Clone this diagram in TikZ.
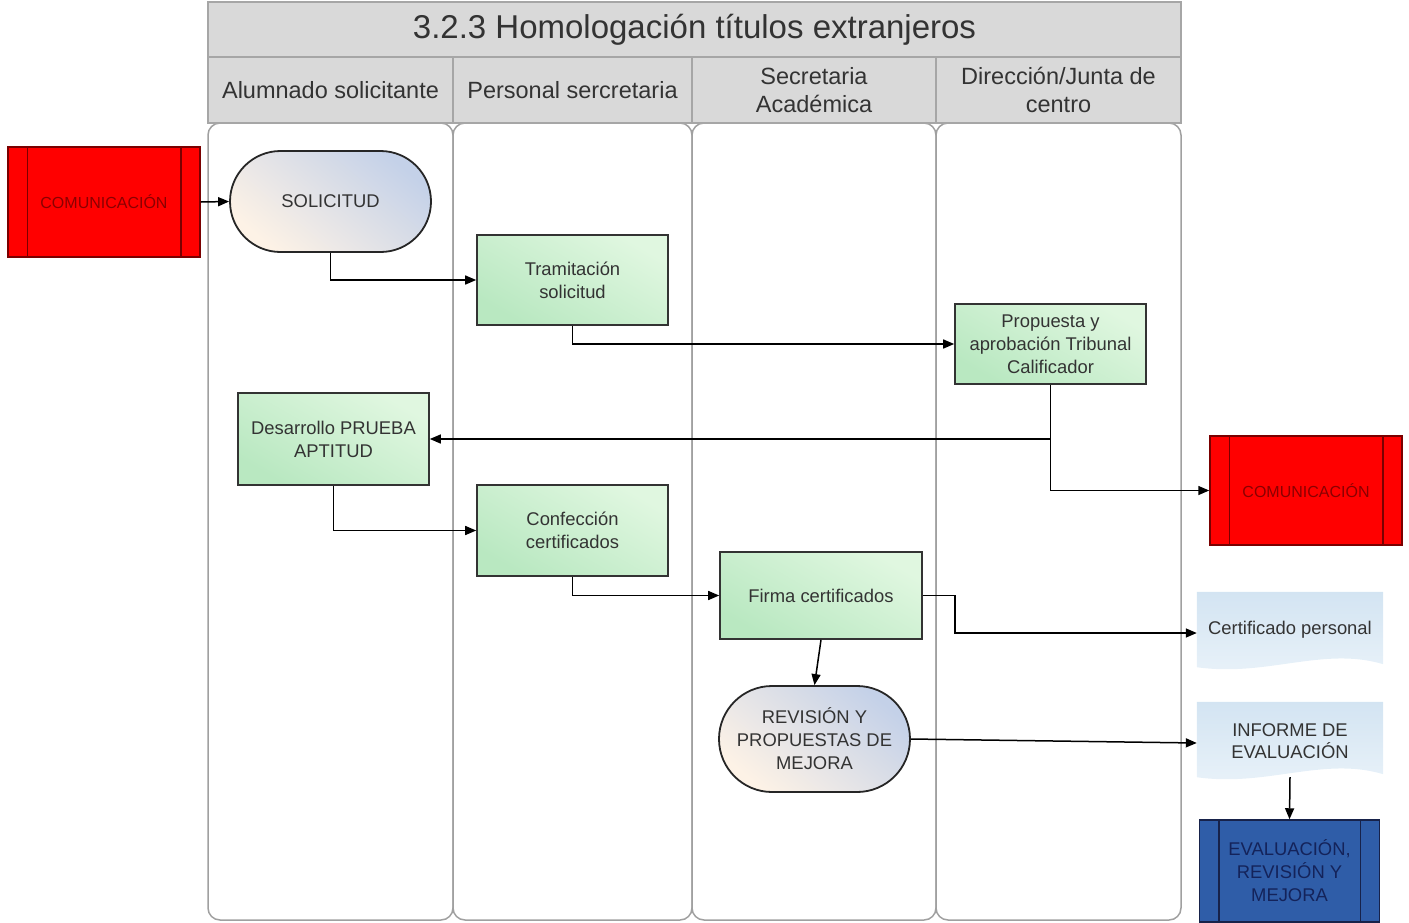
\documentclass[tikz,border=0pt]{standalone}
\usepackage{fontspec}
\setmainfont{Liberation Sans}
\usetikzlibrary{arrows.meta,shapes.misc,backgrounds}

\definecolor{hdrfill}{HTML}{D9D9D9}
\definecolor{hdrline}{HTML}{A6A6A6}
\definecolor{laneline}{HTML}{A0A0A0}
\definecolor{txt}{HTML}{333333}
\definecolor{greenA}{HTML}{E0F7E0}
\definecolor{greenB}{HTML}{B9E8C1}
\definecolor{peach}{HTML}{FDF2E6}
\definecolor{steel}{HTML}{C4D1E8}
\definecolor{docA}{HTML}{D3E4F2}
\definecolor{docB}{HTML}{E9F2F9}
\definecolor{redfill}{HTML}{FF0000}
\definecolor{redline}{HTML}{7A0000}
\definecolor{redtxt}{HTML}{8A0000}
\definecolor{bluefill}{HTML}{2F5DA8}
\definecolor{blueline}{HTML}{17224A}
\definecolor{bluetxt}{HTML}{14235A}

\begin{document}
\begin{tikzpicture}[x=1pt,y=-1pt,
  lane/.style={draw=laneline,line width=1.5pt,rounded corners=12pt,fill=white},
  hdr/.style={draw=hdrline,line width=1.5pt,fill=hdrfill,text=txt,align=center,
    inner sep=0pt,font=\fontsize{23.5}{28}\selectfont},
  nodefont/.style={font=\fontsize{18.4}{23}\selectfont},
  task/.style={nodefont,draw=black!80,line width=1.6pt,top color=greenA,bottom color=greenB,
    shading angle=-30,text=txt,align=center,inner sep=0pt},
  term/.style={nodefont,rounded rectangle,draw=black!85,line width=1.8pt,top color=steel,
    bottom color=peach,shading angle=-40,text=txt,align=center,inner sep=0pt},
  extred/.style={draw=redline,line width=1.5pt,fill=redfill,text=redtxt,align=center,
    inner sep=0pt,font=\fontsize{16}{20}\selectfont},
  extblue/.style={nodefont,draw=blueline,line width=1.5pt,fill=bluefill,text=bluetxt,
    align=center,inner sep=0pt},
  docnode/.style={nodefont,text=txt,align=center,inner sep=0pt},
  conn/.style={draw=black,line width=1.5pt,-{Triangle[length=11pt,width=9pt]}}
]
\useasboundingbox (0,0) rectangle (1409,922);

% swimlane bodies
\foreach \a/\b in {208/453,453/692,692/936,936/1181}
  \draw[lane] (\a,123) rectangle (\b,920);

% title bar and lane headers
\node[hdr,minimum width=973,minimum height=55,font=\fontsize{33}{38}\selectfont]
  (title) at (694.5,29.5) {3.2.3 Homologación títulos extranjeros};
\node[hdr,minimum width=245,minimum height=66] (h1) at (330.5,90) {Alumnado solicitante};
\node[hdr,minimum width=239,minimum height=66] (h2) at (572.5,90) {Personal sercretaria};
\node[hdr,minimum width=244,minimum height=66] (h3) at (814,90) {Secretaria\\Académica};
\node[hdr,minimum width=245,minimum height=66] (h4) at (1058.5,90) {Dirección/Junta de\\centro};

% process steps
\node[term,minimum width=201,minimum height=101] (sol) at (330.5,201.5) {SOLICITUD};
\node[task,minimum width=191,minimum height=90] (tram) at (572.5,280) {Tramitación\\solicitud};
\node[task,minimum width=191,minimum height=80] (prop) at (1050.5,344) {Propuesta y\\aprobación Tribunal\\Calificador};
\node[task,minimum width=191,minimum height=92] (des) at (333.5,439) {Desarrollo PRUEBA\\APTITUD};
\node[task,minimum width=191,minimum height=91] (conf) at (572.5,530.5) {Confección\\certificados};
\node[task,minimum width=202,minimum height=87] (firma) at (821,595.5) {Firma certificados};
\node[term,minimum width=191,minimum height=106] (rev) at (814.5,739) {REVISIÓN Y\\PROPUESTAS DE\\MEJORA};

% predefined processes
\node[extred,minimum width=192,minimum height=110] (comL) at (104,202) {COMUNICACIÓN};
\node[extred,minimum width=192,minimum height=109] (comR) at (1306,490.5) {COMUNICACIÓN};
\node[extblue,minimum width=180,minimum height=102] (eval) at (1289.5,871) {EVALUACIÓN,\\REVISIÓN Y\\MEJORA};
\foreach \n/\c in {comL/redline,comR/redline,eval/blueline} {
  \draw[\c,line width=1.5pt] ([xshift=20pt]\n.north west) -- ([xshift=20pt]\n.south west);
  \draw[\c,line width=1.5pt] ([xshift=-20pt]\n.north east) -- ([xshift=-20pt]\n.south east);
}

% documents
\node[docnode,minimum width=186,minimum height=82] (cert) at (1290,633) {\raisebox{11pt}{Certificado personal}};
\node[docnode,minimum width=186,minimum height=82] (inf) at (1290,743) {\raisebox{11pt}{\begin{tabular}{@{}c@{}}INFORME DE\\[-0.5pt]EVALUACIÓN\end{tabular}}};
\begin{scope}[on background layer]
  \foreach \n in {cert,inf}
    \path[top color=docA,bottom color=docB]
      (\n.north west) -- (\n.north east) -- ([yshift=10pt]\n.south east)
      .. controls +(-60,-18) and +(70,10) .. ([yshift=7pt]\n.south west) -- cycle;
\end{scope}

% flow connectors
\draw[conn] (comL.east) -- (sol.west);
\draw[conn] (sol.south) |- (tram.west);
\draw[conn] (tram.south) |- (prop.west);
\draw[conn] (prop.south) |- (des.east);
\draw[conn] (prop.south) |- (comR.west);
\draw[conn] (des.south) |- (conf.west);
\draw[conn] (conf.south) |- (firma.west);
\draw[conn] (firma.east) -- ++(32,0) |- (cert.west);
\draw[conn] (firma.south) -- (rev.north);
\draw[conn] (rev.east) -- (inf.west);
\draw[conn] ([yshift=7pt]inf.south) -- (eval.north);
\end{tikzpicture}
\end{document}
